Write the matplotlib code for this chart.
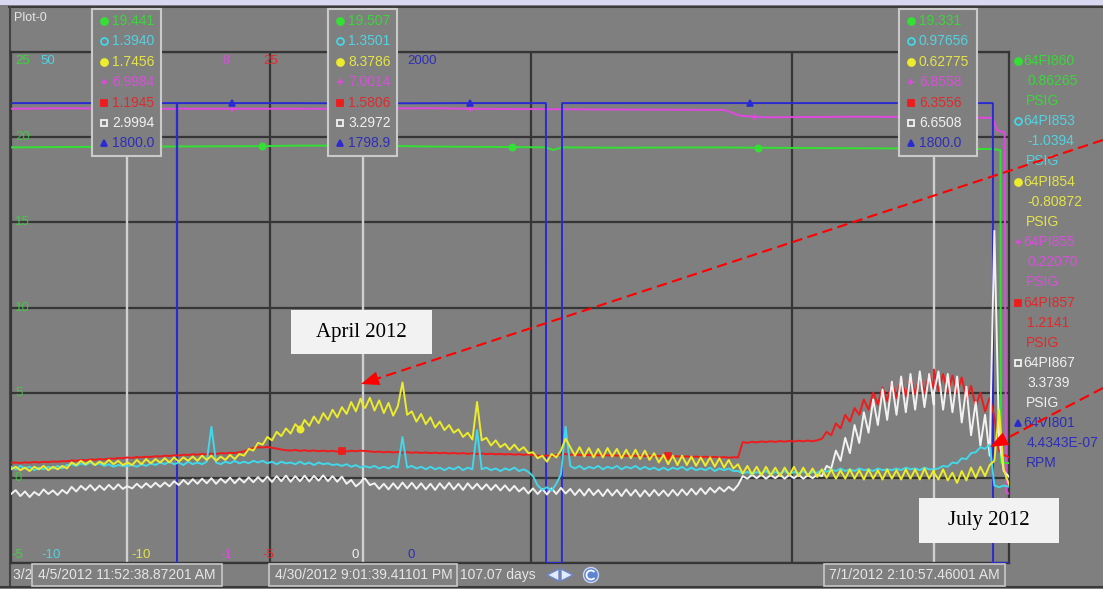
import numpy as np
import matplotlib.pyplot as plt
from matplotlib.patches import Rectangle, Polygon, Circle, Arc

# ── Window layout (pixels) ─────────────────────────────────────────
W, H = 1103, 589
PLOT_L, PLOT_R = 11, 1009
PLOT_T, PLOT_B = 52, 563

BG = "#7f7f7f"
GRID = "#363636"
CURSOR_LINE = "#d0d0d0"
LABEL = "#e6e6e6"
SANS = ["Liberation Sans", "DejaVu Sans"]
SERIF = ["Liberation Serif", "DejaVu Serif"]

# ── Tags ───────────────────────────────────────────────────────────
TAGS = ["64FI860", "64PI853", "64PI854", "64PI855", "64PI857", "64PI867", "64VI801"]
UNITS = ["PSIG", "PSIG", "PSIG", "PSIG", "PSIG", "PSIG", "RPM"]
COLORS = ["#33e033", "#40d8ea", "#ecec2c", "#e048e0", "#ee1c1c", "#f2f2f2", "#2a2ad2"]
TEXT_COLORS = ["#3ad63a", "#52d2e2", "#e4e448", "#d850dc", "#e02a2a", "#f0f0f0", "#2e2eb8"]
MARKERS = ["o", "o", "o", "+", "s", "s", "^"]
HOLLOW = [False, True, False, False, False, True, False]
SCALE_LO = [-5, -10, -10, -1, -5, 0, 0]
SCALE_HI = [25, 50, 50, 8, 25, 20, 2000]
END_VALUES = [0.86265, -1.0394, -0.80872, 0.22070, 1.2141, 3.3739, 4.4343e-07]

# ── Time axis (days from trend start) ──────────────────────────────
SPAN_DAYS = 107.07
SPAN_LABEL = "107.07 days"
START_LABEL = "3/24/2012 1:47:24 AM"
GRID_DAYS = [27.8, 55.8, 83.8]
CURSOR_DAYS = [12.42, 37.80, 99.01]
CURSOR_LABELS = ["4/5/2012 11:52:38.87201 AM",
                 "4/30/2012 9:01:39.41101 PM",
                 "7/1/2012 2:10:57.46001 AM"]
CURSOR1_VALUES = [19.441, 1.3940, 1.7456, 6.9984, 1.1945, 2.9994, 1800.0]
CURSOR2_VALUES = [19.507, 1.3501, 8.3786, 7.0014, 1.5806, 3.2972, 1798.9]
CURSOR3_VALUES = [19.331, 0.97656, 0.62775, 6.8558, 6.3556, 6.6508, 1800.0]

# ── Archived values ────────────────────────────────────────────────
# pressures logged every half day
STEP = 0.5
pi853 = [1.3, 1.0, 1.4, 1.1, 1.3, 0.9, 1.2, 1.0, 1.3, 1.1,
         1.4, 1.1, 1.5, 1.6, 1.4, 1.7, 1.5, 1.8, 1.5, 1.7,
         1.4, 1.6, 1.3, 1.5, 1.4, 1.4, 1.5, 1.3, 1.6, 1.4,
         1.7, 1.5, 1.8, 1.6, 1.9, 1.6, 1.8, 1.5, 1.9, 1.6,
         1.8, 1.6, 1.9, 6.0, 1.8, 1.6, 1.9, 1.7, 2.0, 1.7,
         1.9, 1.7, 2.0, 1.8, 2.0, 1.7, 1.9, 1.6, 1.9, 1.7,
         1.8, 1.6, 1.9, 1.6, 1.8, 1.5, 1.8, 1.6, 1.7, 1.5,
         1.6, 1.4, 1.6, 1.3, 1.5, 1.2, 1.35, 1.2, 1.4, 1.1,
         1.3, 1.1, 1.4, 1.2, 4.8, 1.2, 1.4, 1.1, 1.3, 1.0,
         1.3, 1.0, 1.2, 0.9, 1.2, 1.0, 1.3, 0.9, 1.2, 1.0,
         5.6, 1.0, 1.2, 0.9, 1.1, 0.8, 1.1, 0.9, 1.2, 0.8,
         1.0, 0.7, 0.2, -0.9, -1.4, -1.1, -1.5, -0.7, 0.4, 6.0,
         1.4, 1.1, 1.4, 1.0, 1.3, 1.1, 1.4, 1.0, 1.3, 1.1,
         1.4, 1.0, 1.3, 1.1, 1.4, 1.0, 1.3, 1.0, 1.2, 0.9,
         1.2, 0.9, 1.2, 1.0, 1.3, 0.9, 1.2, 0.9, 1.1, 0.9,
         1.2, 0.8, 1.1, 0.9, 1.1, 0.8, 0.8, 0.5, 0.7, 0.4,
         0.7, 0.5, 0.8, 0.4, 0.7, 0.5, 0.8, 0.4, 0.7, 0.5,
         0.8, 0.4, 0.7, 0.6, 0.9, 0.7, 1.0, 0.8, 1.1, 0.8,
         1.0, 0.8, 1.1, 0.9, 1.0, 0.8, 1.1, 0.9, 1.0, 0.9,
         1.1, 0.9, 1.2, 1.0, 1.1, 0.9, 1.2, 1.0, 1.0, 1.1,
         1.4, 1.3, 1.8, 1.7, 2.3, 2.2, 2.9, 3.0, 3.6, 3.4,
         3.9, -0.9, -1.1, -0.9]
pi854 = [1.0, 1.3, 0.9, 1.2, 0.8, 1.3, 1.0, 1.4, 0.9, 1.3,
         1.0, 1.4, 1.1, 1.8, 1.5, 2.0, 1.6, 2.0, 1.5, 1.9,
         1.6, 2.1, 1.6, 2.0, 1.5, 1.8, 1.5, 2.1, 1.6, 2.2,
         1.7, 2.2, 1.8, 2.3, 1.8, 2.4, 1.9, 2.4, 2.0, 2.5,
         2.0, 2.6, 2.1, 2.6, 2.0, 2.5, 2.1, 2.7, 2.2, 2.8,
         2.6, 3.4, 3.2, 4.1, 3.9, 4.8, 4.4, 5.4, 4.9, 5.8,
         5.2, 6.3, 5.7, 6.8, 6.1, 7.2, 6.4, 7.6, 6.8, 8.0,
         7.1, 8.3, 7.5, 8.9, 7.8, 9.3, 8.2, 9.4, 7.9, 9.1,
         7.6, 8.8, 7.3, 8.4, 11.2, 7.4, 7.8, 6.6, 7.5, 6.3,
         7.1, 5.9, 6.6, 5.6, 6.2, 5.3, 5.7, 4.8, 5.3, 4.5,
         8.9, 4.4, 4.7, 3.8, 4.4, 3.6, 4.0, 3.3, 3.9, 3.2,
         3.6, 2.9, 3.0, 2.3, 2.6, 1.9, 2.8, 2.4, 3.2, 4.6,
         3.6, 2.6, 3.6, 2.5, 3.5, 2.4, 3.4, 2.4, 3.5, 2.5,
         3.4, 2.3, 3.3, 2.3, 3.3, 2.2, 3.2, 2.1, 2.9, 1.8,
         2.7, 1.6, 2.6, 1.5, 2.6, 1.5, 2.5, 1.4, 2.4, 1.4,
         2.4, 1.3, 2.3, 1.2, 2.1, 1.1, 1.6, 0.5, 1.4, 0.4,
         1.3, 0.3, 1.3, 0.3, 1.2, 0.2, 1.2, 0.3, 1.3, 0.2,
         1.2, 0.2, 1.1, 0.1, 1.0, 0.0, 1.0, -0.1, 0.9, -0.1,
         1.0, -0.1, 0.9, -0.2, 1.0, -0.1, 0.9, -0.2, 1.0, -0.1,
         0.9, -0.2, 1.0, -0.1, 1.0, -0.2, 1.1, -0.1, 0.9, -0.2,
         1.0, -0.3, 0.6, -0.6, 0.8, -0.3, 1.2, 0.0, 1.3, 0.2,
         1.5, 2.0, 8.0, 1.0]
pi857 = [0.88, 0.90, 0.87, 0.91, 0.89, 0.93, 0.90, 0.94, 0.92, 0.96,
         0.94, 0.98, 0.97, 1.02, 1.00, 1.05, 1.03, 1.08, 1.06, 1.10,
         1.08, 1.13, 1.12, 1.16, 1.15, 1.19, 1.17, 1.22, 1.20, 1.24,
         1.22, 1.27, 1.25, 1.30, 1.28, 1.33, 1.31, 1.36, 1.34, 1.38,
         1.36, 1.40, 1.38, 1.42, 1.40, 1.45, 1.43, 1.47, 1.45, 1.50,
         1.55, 1.68, 1.75, 1.80, 1.78, 1.82, 1.76, 1.72, 1.66, 1.62,
         1.60, 1.64, 1.58, 1.62, 1.57, 1.61, 1.56, 1.60, 1.55, 1.59,
         1.54, 1.58, 1.55, 1.59, 1.56, 1.60, 1.58, 1.55, 1.52, 1.54,
         1.50, 1.53, 1.49, 1.52, 1.48, 1.51, 1.47, 1.50, 1.46, 1.49,
         1.45, 1.48, 1.44, 1.47, 1.43, 1.46, 1.42, 1.45, 1.41, 1.44,
         1.40, 1.43, 1.39, 1.42, 1.38, 1.41, 1.37, 1.40, 1.36, 1.39,
         1.35, 1.38, 1.34, 1.30, 1.28, 1.31, 1.27, 1.33, 1.36, 1.40,
         1.35, 1.38, 1.34, 1.37, 1.33, 1.36, 1.32, 1.35, 1.31, 1.34,
         1.30, 1.33, 1.29, 1.32, 1.28, 1.31, 1.27, 1.30, 1.26, 1.29,
         1.25, 1.28, 1.24, 1.27, 1.23, 1.26, 1.22, 1.25, 1.21, 1.24,
         1.20, 1.23, 1.19, 1.22, 1.18, 1.21, 1.20, 2.10, 2.05, 2.12,
         2.08, 2.14, 2.10, 2.15, 2.11, 2.16, 2.12, 2.17, 2.13, 2.18,
         2.14, 2.19, 2.15, 2.20, 2.30, 2.70, 2.50, 3.20, 2.90, 3.70,
         3.30, 4.10, 3.70, 4.60, 4.00, 5.00, 4.30, 5.30, 4.50, 5.60,
         4.70, 5.80, 4.80, 5.90, 4.90, 6.00, 5.00, 6.10, 5.20, 5.10,
         6.10, 5.00, 6.00, 5.00, 5.90, 4.60, 5.40, 4.20, 5.00, 3.90,
         4.70, 3.60, 1.60, 1.35]
pi867 = [2.70, 2.85, 2.62, 2.80, 2.58, 2.78, 2.65, 2.88, 2.70, 2.84,
         2.66, 2.86, 2.72, 2.98, 2.80, 3.02, 2.86, 3.05, 2.84, 3.03,
         2.86, 3.06, 2.88, 3.08, 2.90, 3.00, 2.92, 3.10, 2.94, 3.12,
         2.96, 3.14, 2.98, 3.15, 3.00, 3.20, 3.05, 3.25, 3.08, 3.28,
         3.10, 3.30, 3.12, 3.32, 3.10, 3.30, 3.14, 3.34, 3.12, 3.32,
         3.15, 3.35, 3.16, 3.36, 3.18, 3.38, 3.17, 3.40, 3.20, 3.42,
         3.18, 3.40, 3.20, 3.42, 3.19, 3.41, 3.22, 3.43, 3.20, 3.40,
         3.18, 3.38, 3.10, 3.25, 3.00, 3.15, 3.30, 3.05, 3.12, 2.90,
         3.10, 2.88, 3.12, 2.90, 3.15, 2.92, 3.14, 2.90, 3.12, 2.88,
         3.10, 2.86, 3.12, 2.90, 3.14, 2.88, 3.10, 2.86, 3.12, 2.90,
         3.10, 2.88, 3.08, 2.86, 3.06, 2.84, 3.04, 2.82, 3.02, 2.80,
         2.95, 2.72, 2.92, 2.70, 2.90, 2.68, 2.92, 2.70, 2.94, 2.72,
         2.90, 2.66, 2.88, 2.64, 2.90, 2.66, 2.86, 2.62, 2.88, 2.64,
         2.86, 2.62, 2.88, 2.64, 2.86, 2.60, 2.84, 2.62, 2.86, 2.64,
         2.84, 2.62, 2.86, 2.64, 2.88, 2.66, 2.90, 2.68, 2.92, 2.70,
         2.94, 2.76, 2.96, 2.80, 2.98, 2.84, 3.05, 3.40, 3.30, 3.45,
         3.32, 3.46, 3.30, 3.44, 3.32, 3.46, 3.30, 3.45, 3.32, 3.46,
         3.30, 3.44, 3.32, 3.46, 3.40, 3.80, 3.70, 4.40, 4.00, 4.90,
         4.30, 5.40, 4.70, 5.90, 5.10, 6.40, 5.40, 6.80, 5.60, 7.10,
         5.80, 7.30, 5.90, 7.40, 6.00, 7.50, 6.10, 7.40, 6.20, 7.50,
         6.00, 7.40, 5.90, 7.30, 5.50, 6.90, 5.00, 6.30, 4.60, 5.80,
         4.20, 13.0, 4.90, 3.60]

# exception-based tags: only the changes are stored
fi860_days = [0, 5, 20, 26.9, 30, 45, 53.75, 57.4, 58.2, 59.1, 65, 75, 80.1, 90, 105.2, 106.15, 106.2]
fi860_vals = [19.40, 19.42, 19.46, 19.47, 19.50, 19.45, 19.42, 19.40, 19.25, 19.40,
              19.38, 19.40, 19.38, 19.35, 19.30, 19.25, 0.90]
pi855_days = [0, 6, 20, 23.7, 30, 45, 49.2, 60, 76.5, 78.2, 79.8, 81.0, 90, 105.3, 105.8, 106.6, 106.75]
pi855_vals = [7.00, 7.01, 7.00, 7.00, 7.00, 7.01, 7.00, 6.99, 6.98, 6.88, 6.86, 6.85,
              6.86, 6.84, 6.62, 6.58, 0.25]
vi801_days = [0, 17.79, 17.81, 17.83, 23.7, 30, 49.2, 57.39, 57.41, 59.10, 59.12, 79.3, 105.34, 105.36]
vi801_vals = [1800, 1800, 0, 1800, 1800, 1800, 1800, 1800, 0, 0, 1800, 1800, 1800, 0]

MARKER_DAYS = [[26.9, 53.75, 80.1], [], [31.0], [23.7, 49.2, 79.8],
               [35.5, 70.5], [], [23.7, 49.2, 79.3]]


def with_cursors(days, vals, i):
    """Merge a tag's archive with its cursor readings and snapshot value."""
    d = list(days) + CURSOR_DAYS + [SPAN_DAYS]
    v = list(vals) + [CURSOR1_VALUES[i], CURSOR2_VALUES[i], CURSOR3_VALUES[i], END_VALUES[i]]
    order = np.argsort(d, kind="stable")
    return np.asarray(d, float)[order], np.asarray(v, float)[order]


def half_day(vals):
    return np.arange(len(vals)) * STEP, vals


raw = [(fi860_days, fi860_vals), half_day(pi853), half_day(pi854),
       (pi855_days, pi855_vals), half_day(pi857), half_day(pi867),
       (vi801_days, vi801_vals)]
series = [with_cursors(d, v, i) for i, (d, v) in enumerate(raw)]


def fmt(v):
    return f"{v:#.5g}".upper()


def day_to_px(d):
    return PLOT_L + d / SPAN_DAYS * (PLOT_R - PLOT_L)


# ── Figure ─────────────────────────────────────────────────────────
fig = plt.figure(figsize=(W / 100, H / 100), dpi=100)
fig.patch.set_facecolor(BG)


def px_axes(label, z):
    ax = fig.add_axes([0, 0, 1, 1], label=label)
    ax.set_xlim(0, W)
    ax.set_ylim(H, 0)
    ax.set_axis_off()
    ax.set_zorder(z)
    ax.patch.set_visible(False)
    return ax


back = px_axes("window", 0)
back.add_patch(Rectangle((0, 0), W, 5, color="#d8d8f2", lw=0))
back.plot([9, W], [6.5, 6.5], color="#3a3a3a", lw=1.5)
back.plot([9.5, 9.5], [6.5, 587], color="#444444", lw=1.5)
back.plot([0, W], [587, 587], color="#3a3a3a", lw=1.5)

rect = [PLOT_L / W, 1 - PLOT_B / H, (PLOT_R - PLOT_L) / W, (PLOT_B - PLOT_T) / H]

# grid and cursors share the first tag's scale
grid_ax = fig.add_axes(rect, label="grid")
grid_ax.set_zorder(1)
grid_ax.patch.set_visible(False)
grid_ax.set_xlim(0, SPAN_DAYS)
grid_ax.set_ylim(SCALE_LO[0], SCALE_HI[0])
grid_ax.set_xticks(GRID_DAYS)
grid_ax.set_yticks(np.arange(SCALE_LO[0], SCALE_HI[0] + 1, 5))
grid_ax.tick_params(length=0, labelbottom=False, labelleft=False)
grid_ax.grid(True, color=GRID, lw=1.6)
for s in grid_ax.spines.values():
    s.set_color(GRID)
    s.set_linewidth(1.6)
for d in CURSOR_DAYS:
    grid_ax.axvline(d, color=CURSOR_LINE, lw=1.7)
for v in np.arange(SCALE_HI[0] - 5, SCALE_LO[0], -5):
    grid_ax.text(0.004, v, f"{v:g}", transform=grid_ax.get_yaxis_transform(),
                 color=TEXT_COLORS[0], alpha=0.8, fontsize=9.5, family=SANS, va="center")

# one overlaid axes per tag, each with its own scale
draw_order = [3, 0, 6, 4, 5, 1, 2]
for z, i in enumerate(draw_order):
    ax = fig.add_axes(rect, label=TAGS[i])
    ax.set_zorder(2 + z)
    ax.patch.set_visible(False)
    ax.set_axis_off()
    ax.set_xlim(0, SPAN_DAYS)
    ax.set_ylim(SCALE_LO[i], SCALE_HI[i])
    d, v = series[i]
    idx = [int(np.argmin(np.abs(d - m))) for m in MARKER_DAYS[i]]
    ax.plot(d, v, color=COLORS[i], lw=1.4, marker=MARKERS[i], markevery=idx, ms=4.5,
            mfc="none" if HOLLOW[i] else COLORS[i], mec=COLORS[i], mew=1.2)

top = px_axes("overlay", 30)
top.text(14, 18, "Plot-0", color=LABEL, fontsize=9, family=SANS, va="center")

# scale limits along the top and bottom of the plot; the top ones under
# the first two cursor boxes stay hidden
SCALE_X_TOP = [15, 40, None, 222, 263, None, 407]
SCALE_X_BOTTOM = [11, 41, 131, 220, 262, 351, 407]
for i in range(len(TAGS)):
    if SCALE_X_TOP[i] is not None:
        top.text(SCALE_X_TOP[i], 61, f"{SCALE_HI[i]:g}", color=TEXT_COLORS[i],
                 fontsize=9.5, family=SANS, va="center", zorder=1)
    top.text(SCALE_X_BOTTOM[i], 555, f"{SCALE_LO[i]:g}", color=TEXT_COLORS[i],
             fontsize=9.5, family=SANS, va="center", zorder=1)

# cursor value boxes
BOX_W = [69, 69, 78]
for j, vals in enumerate([CURSOR1_VALUES, CURSOR2_VALUES, CURSOR3_VALUES]):
    left = day_to_px(CURSOR_DAYS[j]) - 35
    top.add_patch(Rectangle((left, 9), BOX_W[j], 147, facecolor=BG,
                            edgecolor="#cacaca", lw=1.5, zorder=2))
    for i, v in enumerate(vals):
        y = 21 + 20.4 * i
        top.plot(left + 12, y, marker=MARKERS[i], ms=5, color=COLORS[i],
                 mfc="none" if HOLLOW[i] else COLORS[i], mew=1.3, zorder=3)
        top.text(left + 20, y, fmt(v), color=TEXT_COLORS[i], fontsize=10,
                 family=SANS, va="center", zorder=3)

# tag legend on the right
for i, tag in enumerate(TAGS):
    y0 = 61 + 60.4 * i
    top.plot(1018, y0, marker=MARKERS[i], ms=5, color=COLORS[i],
             mfc="none" if HOLLOW[i] else COLORS[i], mew=1.3, zorder=3)
    top.text(1023, y0, tag, color=TEXT_COLORS[i], fontsize=10, family=SANS, va="center")
    top.text(1027, y0 + 20, fmt(END_VALUES[i]), color=TEXT_COLORS[i],
             fontsize=10, family=SANS, va="center")
    top.text(1026, y0 + 40, UNITS[i], color=TEXT_COLORS[i], fontsize=10,
             family=SANS, va="center")

# time bar; the start time runs under the first cursor label
start = top.text(13, 575, START_LABEL, color=LABEL, fontsize=10, family=SANS,
                 va="center", zorder=1)
start.set_clip_path(Rectangle((0, 560), 30, 30, transform=top.transData))
LABEL_W = [190, 188, 181]
for j, lab in enumerate(CURSOR_LABELS):
    cx = min(day_to_px(CURSOR_DAYS[j]), 1005 - LABEL_W[j] / 2)
    top.add_patch(Rectangle((cx - LABEL_W[j] / 2, 564), LABEL_W[j], 22, facecolor=BG,
                            edgecolor="#c8c8c8", lw=1.2, zorder=2))
    top.text(cx, 575, lab, color=LABEL, fontsize=10, family=SANS,
             ha="center", va="center", zorder=3)
top.text(460, 575, SPAN_LABEL, color=LABEL, fontsize=10, family=SANS, va="center")
top.add_patch(Polygon([[559, 569], [559, 581], [547, 575]], closed=True,
                      facecolor="#e2eafc", edgecolor="#6a86c8", lw=1))
top.add_patch(Polygon([[561, 569], [561, 581], [573, 575]], closed=True,
                      facecolor="#e2eafc", edgecolor="#6a86c8", lw=1))
top.add_patch(Circle((591, 575), 7.5, facecolor="#5f84d2", edgecolor="#c8d6f2", lw=1))
top.add_patch(Arc((591, 575), 9, 9, theta1=40, theta2=320, color="white", lw=1.3))

# callouts
for (x, y, w, h), text in [((291, 310, 141, 44), "April 2012"),
                           ((919, 498, 140, 45), "July 2012")]:
    top.add_patch(Rectangle((x, y), w, h, facecolor="#f2f2f2", edgecolor="none", zorder=5))
    top.text(x + w / 2, y + h / 2, text, color="black", fontsize=15, family=SERIF,
             ha="center", va="center", zorder=6)


def dashed_arrow(x0, y0, x1, y1):
    u = np.array([x1 - x0, y1 - y0], float)
    u /= np.hypot(*u)
    n = np.array([-u[1], u[0]])
    base = np.array([x1, y1]) - 18 * u
    top.plot([x0, base[0]], [y0, base[1]], color="#ff0000", lw=1.5,
             linestyle=(0, (5, 2.6)), zorder=7)
    top.add_patch(Polygon([[x1, y1], base + 7 * n, base - 7 * n], closed=True,
                          color="#ff0000", lw=0, zorder=7))


dashed_arrow(W, 140, 361, 384)
dashed_arrow(W, 388, 990, 447)

fig.savefig("out.png", dpi=100, facecolor=BG)
